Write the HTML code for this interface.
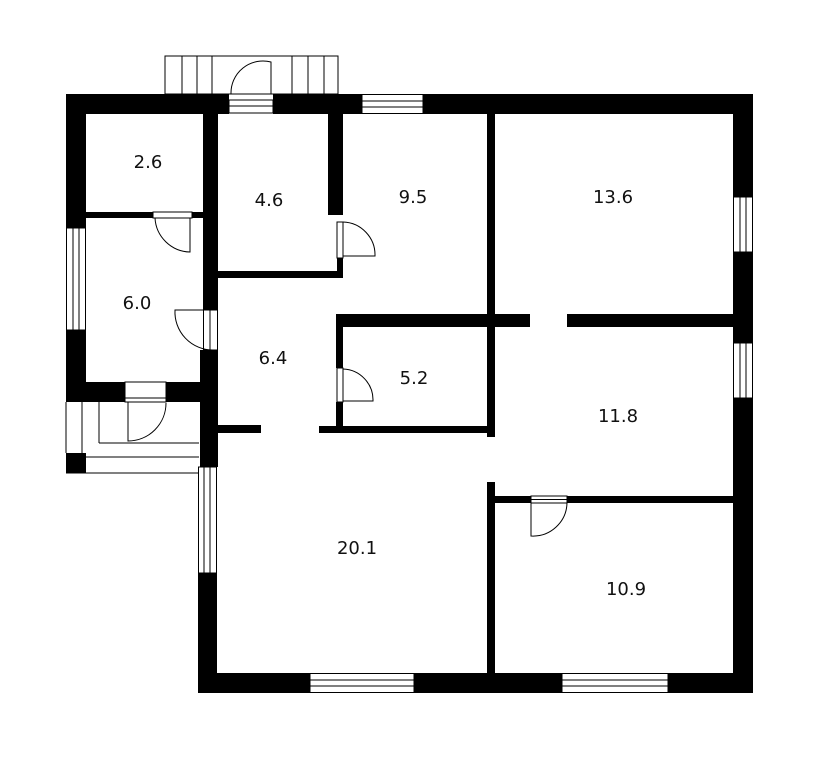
<!DOCTYPE html>
<html><head><meta charset="utf-8"><style>html,body{margin:0;padding:0;background:#fff}svg{display:block}text{font-family:"DejaVu Sans","Liberation Sans",sans-serif;font-size:18px;fill:#111}</style></head><body>
<svg width="825" height="768" viewBox="0 0 825 768" xmlns="http://www.w3.org/2000/svg">
<g fill="#000">
<!-- top wall -->
<rect x="66" y="94" width="163" height="20"/>
<rect x="273" y="94" width="89" height="20"/>
<rect x="423" y="94" width="330" height="20"/>
<!-- left wall -->
<rect x="66" y="94" width="20" height="134"/>
<rect x="66" y="330" width="20" height="72"/>
<!-- 6.0 bottom wall -->
<rect x="66" y="382" width="59" height="20"/>
<rect x="166" y="382" width="37" height="20"/>
<!-- 2.6/6.0 -->
<rect x="86" y="212" width="67" height="6"/>
<rect x="192" y="212" width="11" height="6"/>
<!-- inner vertical -->
<rect x="203" y="94" width="15" height="216"/>
<rect x="200" y="350" width="18" height="117"/>
<rect x="198" y="573" width="19" height="120"/>
<!-- bottom wall -->
<rect x="198" y="673" width="112" height="20"/>
<rect x="414" y="673" width="148" height="20"/>
<rect x="668" y="673" width="85" height="20"/>
<!-- right wall -->
<rect x="733" y="94" width="20" height="103"/>
<rect x="733" y="252" width="20" height="91"/>
<rect x="733" y="398" width="20" height="295"/>
<!-- 4.6 walls -->
<rect x="328" y="114" width="15" height="101"/>
<rect x="337" y="258" width="6" height="20"/>
<rect x="218" y="271" width="125" height="7"/>
<!-- vertical 9.5/13.6 -->
<rect x="487" y="114" width="8" height="323"/>
<!-- horizontal -->
<rect x="336" y="314" width="194" height="13"/>
<rect x="567" y="314" width="166" height="13"/>
<!-- 5.2 -->
<rect x="336" y="314" width="7" height="54"/>
<rect x="336" y="402" width="7" height="31"/>
<rect x="319" y="426" width="176" height="7"/>
<rect x="218" y="425" width="43" height="8"/>
<rect x="487" y="482" width="8" height="191"/>
<rect x="495" y="496" width="36" height="7"/>
<rect x="567" y="496" width="166" height="7"/>
<rect x="66" y="453" width="20" height="20"/>
</g>
<g fill="#fff" stroke="#000" stroke-width="1">
<!-- windows -->
<rect x="362" y="94.5" width="61" height="19"/><line x1="362" y1="101" x2="423" y2="101"/><line x1="362" y1="107" x2="423" y2="107"/>
<rect x="66.5" y="228" width="19" height="102"/><line x1="73" y1="228" x2="73" y2="330"/><line x1="79" y1="228" x2="79" y2="330"/>
<rect x="198.5" y="467" width="18" height="106"/><line x1="204" y1="467" x2="204" y2="573"/><line x1="210" y1="467" x2="210" y2="573"/>
<rect x="310" y="673.5" width="104" height="19"/><line x1="310" y1="680" x2="414" y2="680"/><line x1="310" y1="686" x2="414" y2="686"/>
<rect x="562" y="673.5" width="106" height="19"/><line x1="562" y1="680" x2="668" y2="680"/><line x1="562" y1="686" x2="668" y2="686"/>
<rect x="733.5" y="197" width="19" height="55"/><line x1="740" y1="197" x2="740" y2="252"/><line x1="746" y1="197" x2="746" y2="252"/>
<rect x="733.5" y="343" width="19" height="55"/><line x1="740" y1="343" x2="740" y2="398"/><line x1="746" y1="343" x2="746" y2="398"/>
<!-- porch top -->
<rect x="165" y="56" width="173" height="38"/>
<line x1="182" y1="56" x2="182" y2="94"/><line x1="197" y1="56" x2="197" y2="94"/><line x1="212" y1="56" x2="212" y2="94"/>
<line x1="292" y1="56" x2="292" y2="94"/><line x1="308" y1="56" x2="308" y2="94"/><line x1="324" y1="56" x2="324" y2="94"/>
<!-- door frames -->
<rect x="229" y="100" width="44" height="13"/><line x1="229" y1="106" x2="273" y2="106"/>
<rect x="153" y="212" width="39" height="6"/>
<rect x="203.5" y="310" width="14" height="40"/><line x1="210" y1="310" x2="210" y2="350"/>
<rect x="125" y="382" width="41" height="20"/><line x1="125" y1="398" x2="166" y2="398"/>
<rect x="337" y="222" width="6" height="36"/>
<rect x="337" y="368" width="6" height="34"/>
<rect x="531" y="496" width="36" height="7"/><line x1="531" y1="499.5" x2="567" y2="499.5"/>
</g>
<g fill="none" stroke="#000" stroke-width="1">
<!-- door leaves & arcs -->
<path d="M271 94 V62 A32 32 0 0 0 231 94"/>
<path d="M190 218 V252 A36 36 0 0 1 155 218"/>
<path d="M213 310 H175 A38 38 0 0 0 213 350"/>
<path d="M343 256 H375 A33 33 0 0 0 343 222"/>
<path d="M343 401 H373 A31 31 0 0 0 343 369"/>
<path d="M531 503 V536 A34 34 0 0 0 567 503"/>
<path d="M128 402 V441 A38 38 0 0 0 166 403"/>
<!-- bottom-left porch -->
<line x1="66" y1="402" x2="66" y2="453"/>
<line x1="82" y1="402" x2="82" y2="453"/>
<line x1="99" y1="402" x2="99" y2="443"/>
<line x1="99" y1="443" x2="199" y2="443"/>
<line x1="86" y1="457" x2="199" y2="457"/>
<line x1="66" y1="473" x2="199" y2="473"/>
</g>
<text x="148" y="168" text-anchor="middle">2.6</text>
<text x="269" y="206" text-anchor="middle">4.6</text>
<text x="413" y="203" text-anchor="middle">9.5</text>
<text x="613" y="203" text-anchor="middle">13.6</text>
<text x="137" y="309" text-anchor="middle">6.0</text>
<text x="273" y="364" text-anchor="middle">6.4</text>
<text x="414" y="384" text-anchor="middle">5.2</text>
<text x="618" y="422" text-anchor="middle">11.8</text>
<text x="357" y="554" text-anchor="middle">20.1</text>
<text x="626" y="595" text-anchor="middle">10.9</text>
</svg>
</body></html>
